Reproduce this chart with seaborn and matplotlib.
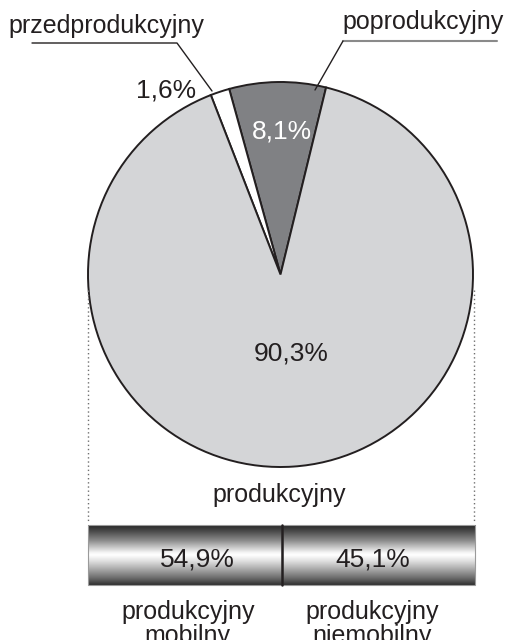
import numpy as np
import matplotlib.pyplot as plt
import seaborn as sns
from matplotlib.colors import LinearSegmentedColormap

sns.set_theme(style="white")
plt.rcParams["font.family"] = ["Liberation Sans", "DejaVu Sans"]

# pie data (counter-clockwise order starting at the top)
groups = ["poprodukcyjny", "przedprodukcyjny", "produkcyjny"]
shares = [8.1, 1.6, 90.3]
group_colors = ["#808184", "#ffffff", "#d4d5d7"]

# breakdown of the "produkcyjny" group
sub_groups = ["produkcyjny\nmobilny", "produkcyjny\nniemobilny"]
sub_shares = [54.9, 45.1]

ink = "#231f20"
W, H = 507, 640


def Y(y):
    return H - y


def pct(v):
    return f"{v:.1f}".replace(".", ",") + "%"


fig = plt.figure(figsize=(W / 100, H / 100), dpi=100)
ax = fig.add_axes([0, 0, 1, 1])

cx, cy, r = 280.5, Y(274.5), 192.5
wedges, _ = ax.pie(
    shares, colors=group_colors, startangle=76.3, counterclock=True,
    center=(cx, cy), radius=r,
    wedgeprops={"edgecolor": ink, "linewidth": 1.4}
)

fs = 18
fs_pct = 19
# group labels with leader lines
ax.text(106, Y(33), groups[1], ha="center", va="baseline", fontsize=fs, color=ink)
ax.plot([32, 177, 212], [Y(43), Y(43), Y(91)], color=ink, lw=1)
ax.text(423, Y(29), groups[0], ha="center", va="baseline", fontsize=fs, color=ink)
ax.plot([343, 497], [Y(41), Y(41)], color="#8a8a8a", lw=1.5)
ax.plot([343, 315], [Y(41), Y(90)], color=ink, lw=1)

ax.text(166, Y(97.5), pct(shares[1]), ha="center", va="baseline", fontsize=fs_pct, color=ink)
ax.text(281.5, Y(139), pct(shares[0]), ha="center", va="baseline", fontsize=fs_pct, color="white")
ax.text(291, Y(361), pct(shares[2]), ha="center", va="baseline", fontsize=fs_pct, color=ink)
ax.text(279.5, Y(502), groups[2], ha="center", va="baseline", fontsize=fs, color=ink)

# dotted guides from pie to bar
for x in [88, 474]:
    ax.plot([x, x], [Y(290), Y(523)], ls=(0, (1, 2)), color="#707070", lw=1)

# metallic bar
bar_left, bar_right, bar_top, bar_bot = 88, 475, 525, 585
seg_w = (bar_right - bar_left) / len(sub_shares)
lefts = [bar_left + i * seg_w for i in range(len(sub_shares))]
bars = ax.barh(Y((bar_top + bar_bot) / 2), seg_w, left=lefts, height=bar_bot - bar_top,
               facecolor="none", edgecolor="#9a9a9a", linewidth=0.8, zorder=3)

metal = LinearSegmentedColormap.from_list("metal", [
    (0.0, "#262626"), (0.1, "#4a4a4a"), (0.25, "#888888"), (0.36, "#c2c2c2"),
    (0.46, "#f6f6f6"), (0.5, "#ffffff"), (0.6, "#e0e0e0"), (0.75, "#a4a4a4"),
    (0.9, "#646464"), (1.0, "#303030")])
grad = np.linspace(0, 1, 256).reshape(-1, 1)
for p in bars:
    im = ax.imshow(grad, cmap=metal, aspect="auto", origin="upper",
                   extent=(bar_left, bar_right, Y(bar_bot), Y(bar_top)), zorder=2)
    im.set_clip_path(p)

for p in list(bars)[:-1]:
    x = p.get_x() + p.get_width()
    ax.plot([x, x], [Y(bar_bot), Y(bar_top)], color=ink, lw=1.8, zorder=4)

pct_dx = [13, -6]
lab_dx = [3, -6]
for p, v, lab, dp, dl in zip(bars, sub_shares, sub_groups, pct_dx, lab_dx):
    xc = p.get_x() + p.get_width() / 2
    ax.text(xc + dp, Y(567), pct(v), ha="center", va="baseline",
            fontsize=fs_pct, color=ink, zorder=5)
    ax.text(xc + dl, Y(600), lab, ha="center", va="top", fontsize=fs,
            color=ink, linespacing=0.98, multialignment="center")

ax.set_xlim(0, W)
ax.set_ylim(0, H)
ax.axis("off")

fig.savefig("out.png", dpi=100)
